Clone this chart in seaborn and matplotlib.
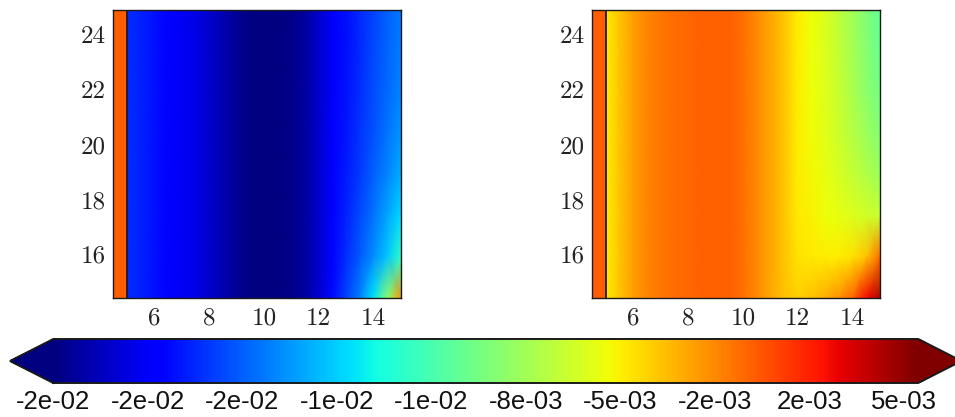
import numpy as np
import pandas as pd
import matplotlib
matplotlib.use("Agg")
import matplotlib.pyplot as plt
import seaborn as sns
from matplotlib.colors import Normalize
from matplotlib.cm import ScalarMappable

sns.set_style("ticks")
plt.rcParams['mathtext.fontset'] = 'cm'
plt.rcParams['axes.unicode_minus'] = False

# ---------------- data ----------------
x_vals = [5.0, 5.5, 6.0, 6.5, 7.0, 7.5, 8.0, 8.5, 9.0, 9.5, 10.0,
          10.5, 11.0, 11.5, 12.0, 12.5, 13.0, 13.5, 14.0, 14.5, 15.0]
y_vals = [25.0, 23.5, 22.0, 20.5, 19.0, 17.5, 16.0, 14.5]

left_field = [
    [-0.0196, -0.0199, -0.0204, -0.0211, -0.0216, -0.0220, -0.0226, -0.0234, -0.0241, -0.0245, -0.0246,
     -0.0246, -0.0244, -0.0238, -0.0227, -0.0215, -0.0205, -0.0197, -0.0189, -0.0181, -0.0174],
    [-0.0196, -0.0199, -0.0204, -0.0211, -0.0216, -0.0220, -0.0226, -0.0234, -0.0241, -0.0245, -0.0246,
     -0.0246, -0.0244, -0.0238, -0.0227, -0.0215, -0.0205, -0.0197, -0.0188, -0.0180, -0.0173],
    [-0.0196, -0.0199, -0.0204, -0.0211, -0.0216, -0.0220, -0.0226, -0.0234, -0.0241, -0.0245, -0.0246,
     -0.0246, -0.0244, -0.0238, -0.0227, -0.0215, -0.0204, -0.0196, -0.0187, -0.0178, -0.0170],
    [-0.0196, -0.0199, -0.0204, -0.0211, -0.0216, -0.0220, -0.0226, -0.0234, -0.0241, -0.0245, -0.0246,
     -0.0246, -0.0244, -0.0238, -0.0227, -0.0214, -0.0203, -0.0194, -0.0185, -0.0175, -0.0166],
    [-0.0196, -0.0199, -0.0204, -0.0211, -0.0216, -0.0220, -0.0226, -0.0234, -0.0241, -0.0245, -0.0246,
     -0.0246, -0.0244, -0.0238, -0.0227, -0.0213, -0.0202, -0.0192, -0.0181, -0.0170, -0.0159],
    [-0.0196, -0.0199, -0.0204, -0.0211, -0.0216, -0.0220, -0.0226, -0.0234, -0.0241, -0.0245, -0.0246,
     -0.0246, -0.0244, -0.0238, -0.0226, -0.0212, -0.0200, -0.0188, -0.0175, -0.0161, -0.0146],
    [-0.0196, -0.0199, -0.0204, -0.0211, -0.0216, -0.0220, -0.0226, -0.0234, -0.0241, -0.0245, -0.0246,
     -0.0246, -0.0244, -0.0238, -0.0226, -0.0210, -0.0196, -0.0183, -0.0168, -0.0150, -0.0124],
    [-0.0196, -0.0199, -0.0204, -0.0211, -0.0216, -0.0220, -0.0226, -0.0234, -0.0241, -0.0245, -0.0246,
     -0.0246, -0.0244, -0.0238, -0.0225, -0.0207, -0.0190, -0.0172, -0.0142, -0.0092, -0.0022],
]

right_field = [
    [-0.0050, -0.0037, -0.0025, -0.0017, -0.0012, -0.0009, -0.0007, -0.0005, -0.0005, -0.0005, -0.0010,
     -0.0018, -0.0027, -0.0037, -0.0049, -0.0055, -0.0062, -0.0073, -0.0083, -0.0095, -0.0106],
    [-0.0050, -0.0037, -0.0025, -0.0017, -0.0012, -0.0009, -0.0007, -0.0005, -0.0005, -0.0005, -0.0010,
     -0.0018, -0.0027, -0.0037, -0.0049, -0.0055, -0.0062, -0.0072, -0.0082, -0.0093, -0.0104],
    [-0.0050, -0.0037, -0.0025, -0.0017, -0.0012, -0.0009, -0.0007, -0.0005, -0.0005, -0.0005, -0.0010,
     -0.0018, -0.0027, -0.0037, -0.0049, -0.0055, -0.0061, -0.0070, -0.0080, -0.0090, -0.0100],
    [-0.0050, -0.0037, -0.0025, -0.0017, -0.0012, -0.0009, -0.0007, -0.0005, -0.0005, -0.0005, -0.0010,
     -0.0018, -0.0027, -0.0037, -0.0049, -0.0054, -0.0060, -0.0068, -0.0076, -0.0085, -0.0094],
    [-0.0050, -0.0037, -0.0025, -0.0017, -0.0012, -0.0009, -0.0007, -0.0005, -0.0005, -0.0005, -0.0010,
     -0.0018, -0.0027, -0.0037, -0.0049, -0.0053, -0.0058, -0.0064, -0.0071, -0.0078, -0.0086],
    [-0.0050, -0.0037, -0.0025, -0.0017, -0.0012, -0.0009, -0.0007, -0.0005, -0.0005, -0.0005, -0.0010,
     -0.0018, -0.0027, -0.0037, -0.0048, -0.0051, -0.0055, -0.0058, -0.0062, -0.0066, -0.0069],
    [-0.0050, -0.0037, -0.0025, -0.0017, -0.0012, -0.0009, -0.0007, -0.0005, -0.0005, -0.0005, -0.0010,
     -0.0018, -0.0027, -0.0037, -0.0046, -0.0048, -0.0049, -0.0049, -0.0046, -0.0036, -0.0008],
    [-0.0050, -0.0037, -0.0025, -0.0017, -0.0012, -0.0009, -0.0007, -0.0005, -0.0005, -0.0005, -0.0010,
     -0.0018, -0.0027, -0.0036, -0.0040, -0.0036, -0.0030, -0.0020, -0.0006, 0.0022, 0.0042],
]

strip_bounds = [4.5, 5.0]      # region left of the boundary line
strip_value = -0.0004
boundary_x = 5.0
x_limits = [4.5, 15.0]
y_limits = [14.5, 25.0]
x_ticks = [6, 8, 10, 12, 14]
y_ticks = [16, 18, 20, 22, 24]

vmin, vmax = -0.0247, 0.0053
cbar_tick_first, cbar_tick_last = -0.0247, 0.0048
cbar_tick_labels = ["-2e-02", "-2e-02", "-2e-02", "-1e-02", "-1e-02",
                    "-8e-03", "-5e-03", "-2e-03", "2e-03", "5e-03"]

# ---------------- figure ----------------
cmap = plt.get_cmap("jet")
norm = Normalize(vmin=vmin, vmax=vmax)

fig = plt.figure(figsize=(9.55, 4.17), dpi=100)
ax_l = fig.add_axes([113 / 955, 119 / 417, 288 / 955, 288 / 417])
ax_r = fig.add_axes([592 / 955, 119 / 417, 288 / 955, 288 / 417])

dx = x_vals[1] - x_vals[0]
dy = y_vals[0] - y_vals[1]


def xi(v):
    return (v - x_vals[0]) / dx


def yi(v):
    return (y_vals[0] - v) / dy


tick_font = dict(family=["cmr10", "DejaVu Serif"], size=18, color="#222222")

for ax, field in [(ax_l, left_field), (ax_r, right_field)]:
    df = pd.DataFrame(field, index=y_vals, columns=x_vals)
    sns.heatmap(df, ax=ax, cmap=cmap, vmin=vmin, vmax=vmax, cbar=False,
                shading="gouraud", xticklabels=False, yticklabels=False,
                rasterized=True)
    ax.axvspan(xi(strip_bounds[0]), xi(strip_bounds[1]),
               color=cmap(norm(strip_value)), lw=0, zorder=1)
    ax.axvline(xi(boundary_x), color="#1a1a1a", lw=1.3, zorder=3)
    ax.set_xlim(xi(x_limits[0]), xi(x_limits[1]))
    ax.set_ylim(yi(y_limits[0]), yi(y_limits[1]))
    ax.set_xticks([xi(v) for v in x_ticks])
    ax.set_xticklabels([str(v) for v in x_ticks], rotation=0, **tick_font)
    ax.set_yticks([yi(v) for v in y_ticks])
    ax.set_yticklabels([str(v) for v in y_ticks], rotation=0, va="center", **tick_font)
    ax.set_xlabel("")
    ax.set_ylabel("")
    for s in ax.spines.values():
        s.set_visible(True)
        s.set_color("#1a1a1a")
        s.set_linewidth(1.0)
    ax.tick_params(axis="both", direction="in", top=True, right=True,
                   bottom=True, left=True, length=5, width=0.9,
                   color="#1a1a1a")
    ax.tick_params(axis="x", pad=7)
    ax.tick_params(axis="y", pad=5)

cax = fig.add_axes([10 / 955, 34 / 417, 951.5 / 955, 44 / 417])
sm = ScalarMappable(norm=norm, cmap=cmap)
cbar = fig.colorbar(sm, cax=cax, orientation="horizontal", extend="both",
                    ticks=np.linspace(cbar_tick_first, cbar_tick_last, len(cbar_tick_labels)))
cbar.ax.set_xticklabels(cbar_tick_labels, family=["Liberation Sans", "DejaVu Sans"],
                        fontsize=18.5, color="#111111")
cbar.ax.tick_params(axis="x", direction="in", top=True, bottom=True,
                    length=6, width=1.0, color="#1a1a1a", pad=5)
cbar.outline.set_linewidth(1.4)
cbar.outline.set_edgecolor("#1a1a1a")

fig.savefig("out.png", dpi=100)
